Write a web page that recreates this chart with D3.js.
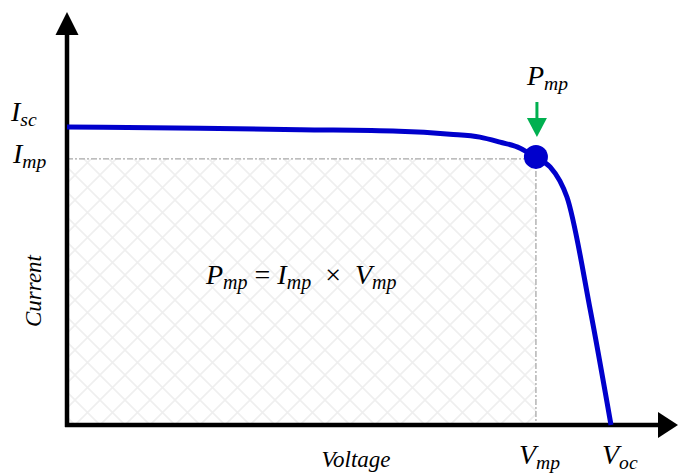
<!DOCTYPE html>
<html>
<head>
<meta charset="utf-8">
<script src="https://cdn.jsdelivr.net/npm/d3@7"></script>
<style>
  body { margin: 0; background: #fff; }
  svg text { font-family: "Liberation Serif", "Times New Roman", serif; font-style: italic; }
</style>
</head>
<body>
<svg id="chart" width="679" height="473"></svg>
<script>
// I-V curve of a PV cell, normalised: voltage 0..Voc (=1), current 0..Isc (=1)
const voltage = [0, 0.245, 0.43, 0.61, 0.704, 0.759, 0.796, 0.833, 0.86, 0.888, 0.906, 0.919, 0.962, 1.0];
const current = [1.0, 0.996, 0.991, 0.986, 0.976, 0.966, 0.949, 0.929, 0.899, 0.866, 0.819, 0.765, 0.385, 0];

const Vmp = 0.862, Imp = 0.893; // maximum power point

const svg = d3.select("#chart");

const x = d3.scaleLinear().domain([0, 1]).range([67, 611]);
const y = d3.scaleLinear().domain([0, 1]).range([425, 127]);

// hatch pattern for the power rectangle
const defs = svg.append("defs");
const pat = defs.append("pattern")
    .attr("id", "hatch")
    .attr("patternUnits", "userSpaceOnUse")
    .attr("width", 25).attr("height", 25);
pat.append("path")
    .attr("d", "M0,0L25,25M0,25L25,0")
    .attr("stroke", "#efefef")
    .attr("stroke-width", 1.6);

svg.append("rect")
    .attr("x", x(0))
    .attr("y", y(Imp))
    .attr("width", x(Vmp) - x(0))
    .attr("height", y(0) - y(Imp))
    .attr("fill", "url(#hatch)");

// dashed guides to Imp and Vmp
svg.append("line")
    .attr("x1", x(0)).attr("x2", x(Vmp))
    .attr("y1", y(Imp)).attr("y2", y(Imp))
    .attr("stroke", "#a8a8a8").attr("stroke-width", 1.3)
    .attr("stroke-dasharray", "6,2,2,2");
svg.append("line")
    .attr("x1", x(Vmp)).attr("x2", x(Vmp))
    .attr("y1", y(Imp)).attr("y2", y(0))
    .attr("stroke", "#a8a8a8").attr("stroke-width", 1.3)
    .attr("stroke-dasharray", "6,2,2,2");

// axes with arrowheads
svg.append("line")
    .attr("x1", x(0)).attr("x2", x(0))
    .attr("y1", y(0) + 2).attr("y2", 30)
    .attr("stroke", "#000").attr("stroke-width", 4.5);
svg.append("path")
    .attr("d", `M${x(0)},12L${x(0) + 11.5},35L${x(0) - 11.5},35Z`)
    .attr("fill", "#000");

svg.append("line")
    .attr("x1", x(0) - 2).attr("x2", 662)
    .attr("y1", y(0)).attr("y2", y(0))
    .attr("stroke", "#000").attr("stroke-width", 4.5);
svg.append("path")
    .attr("d", `M678,${y(0)}L658,${y(0) - 13}L658,${y(0) + 13}Z`)
    .attr("fill", "#000");

// I-V curve
const pts = voltage.map((v, i) => [v, current[i]]);
const line = d3.line()
    .x(d => x(d[0]))
    .y(d => y(d[1]))
    .curve(d3.curveMonotoneX);

svg.append("path")
    .datum(pts)
    .attr("d", line)
    .attr("fill", "none")
    .attr("stroke", "#0000cc")
    .attr("stroke-width", 5)
    .attr("stroke-linejoin", "round");

// maximum power point
svg.append("circle")
    .attr("cx", x(Vmp)).attr("cy", y(Imp) - 2)
    .attr("r", 12)
    .attr("fill", "#0000cc");

// green arrow pointing at Pmp
svg.append("line")
    .attr("x1", x(Vmp) + 1).attr("x2", x(Vmp) + 1)
    .attr("y1", 102).attr("y2", 122)
    .attr("stroke", "#00b050").attr("stroke-width", 3);
svg.append("path")
    .attr("d", `M${x(Vmp) + 1},137L${x(Vmp) - 9},118L${x(Vmp) + 11},118Z`)
    .attr("fill", "#00b050");

// labels with subscripts
function subLabel(px, py, main, sub, size) {
    const s = size || 28;
    const t = svg.append("text")
        .attr("x", px).attr("y", py)
        .attr("font-size", s)
        .attr("fill", "#000");
    t.append("tspan").text(main);
    t.append("tspan").attr("dy", 5).attr("font-size", s * 0.7).text(sub);
    return t;
}

subLabel(11, 121, "I", "sc");
subLabel(13, 163, "I", "mp");
subLabel(527, 85, "P", "mp");
subLabel(519, 464, "V", "mp");
subLabel(602, 464, "V", "oc");

// formula
const f = svg.append("text")
    .attr("x", 206).attr("y", 284)
    .attr("font-size", 28)
    .attr("fill", "#000")
    .attr("xml:space", "preserve");
f.append("tspan").text("P");
f.append("tspan").attr("dy", 5).attr("font-size", 20).text("mp");
f.append("tspan").attr("dy", -5).attr("font-style", "normal").text(" = ");
f.append("tspan").text("I");
f.append("tspan").attr("dy", 5).attr("font-size", 20).text("mp");
f.append("tspan").attr("dy", -5).attr("font-style", "normal").text("  \u00d7  ");
f.append("tspan").text("V");
f.append("tspan").attr("dy", 5).attr("font-size", 20).text("mp");

// axis titles
svg.append("text")
    .attr("x", 356).attr("y", 467)
    .attr("text-anchor", "middle")
    .attr("font-size", 23)
    .text("Voltage");

svg.append("text")
    .attr("transform", "translate(41,291) rotate(-90)")
    .attr("text-anchor", "middle")
    .attr("font-size", 23)
    .text("Current");
</script>
</body>
</html>
